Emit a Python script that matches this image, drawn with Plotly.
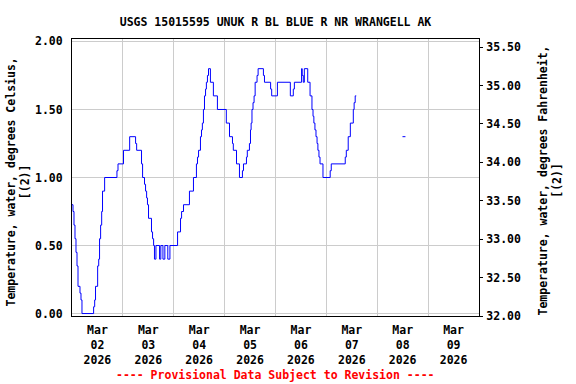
import pandas as pd
import plotly.graph_objects as go

# ---- data (hours since 2026-03-02 00:00, deg C) ----
start = pd.Timestamp("2026-03-02 00:00")
hours = [0.0, 0.47, 0.94, 1.41, 1.88, 2.36, 2.83, 3.77, 4.24, 4.71,
         10.2, 10.7, 11.1, 12.1, 12.6, 13.0, 13.5, 14.0, 14.4, 15.4,
         21.2, 21.7, 24.3, 27.2, 30.0, 30.5, 32.8, 33.3, 34.2, 34.7,
         35.2, 35.6, 36.1, 37.5, 38.0, 38.5, 38.9, 39.6, 41.3, 41.9,
         42.9, 43.8, 45.2, 46.2, 49.8, 51.2, 51.7, 52.6, 55.4, 57.3,
         58.7, 59.2, 59.7, 60.6, 61.1, 61.5, 62.0, 62.5, 63.0, 63.4,
         63.9, 64.4, 65.3, 66.7, 68.6, 72.8, 74.3, 75.7, 76.1, 77.6,
         79.0, 80.4, 80.9, 82.3, 82.7, 83.7, 84.2, 84.5, 84.9, 85.4,
         85.9, 86.4, 87.3, 87.8, 90.3, 90.8, 93.7, 94.2, 96.9, 103.0,
         104.4, 104.9, 108.3, 108.6, 109.1, 109.6, 111.2, 112.3, 113.2, 113.7,
         114.1, 114.6, 115.1, 115.6, 116.0, 116.5, 117.0, 118.4, 121.8, 122.3,
         128.9, 129.4, 130.3, 131.3, 132.7, 133.1, 133.6, 134.1,
         134.2, 155.9, 157.3]
temp_c = [0.8, 0.75, 0.65, 0.55, 0.45, 0.35, 0.2, 0.15, 0.1, 0.0,
          0.05, 0.1, 0.2, 0.35, 0.4, 0.55, 0.65, 0.75, 0.9, 1.0,
          1.05, 1.1, 1.2, 1.3, 1.25, 1.2, 1.1, 1.0, 0.95, 0.9,
          0.85, 0.8, 0.7, 0.6, 0.55, 0.5, 0.4, 0.5, 0.4, 0.5,
          0.4, 0.5, 0.4, 0.5, 0.6, 0.7, 0.75, 0.8, 0.9, 1.0,
          1.1, 1.15, 1.2, 1.3, 1.35, 1.4, 1.5, 1.6, 1.65, 1.7,
          1.75, 1.8, 1.7, 1.6, 1.5, 1.4, 1.3, 1.25, 1.2, 1.1,
          1.0, 1.05, 1.1, 1.15, 1.2, 1.25, 1.35, 1.4, 1.5, 1.55,
          1.6, 1.7, 1.75, 1.8, 1.75, 1.7, 1.65, 1.6, 1.7, 1.6,
          1.65, 1.7, 1.8, 1.75, 1.7, 1.8, 1.7, 1.6, 1.5, 1.45,
          1.4, 1.35, 1.3, 1.25, 1.2, 1.15, 1.1, 1.0, 1.05, 1.1,
          1.15, 1.2, 1.3, 1.4, 1.5, 1.55, 1.6, 1.6,
          None, 1.3, 1.3]

tick_days = ["2026-03-02", "2026-03-03", "2026-03-04", "2026-03-05",
             "2026-03-06", "2026-03-07", "2026-03-08", "2026-03-09"]
tick_text = ["Mar<br>02<br>2026", "Mar<br>03<br>2026", "Mar<br>04<br>2026",
             "Mar<br>05<br>2026", "Mar<br>06<br>2026", "Mar<br>07<br>2026",
             "Mar<br>08<br>2026", "Mar<br>09<br>2026"]

title = "USGS 15015595 UNUK R BL BLUE R NR WRANGELL AK"
left_title = "Temperature, water, degrees Celsius,<br>[(2)]"
right_title = "Temperature, water, degrees Fahrenheit,<br>[(2)]"
note = "---- Provisional Data Subject to Revision ----"

times = [start + pd.Timedelta(hours=h) for h in hours]
temp_f = [None if v is None else v * 9 / 5 + 32 for v in temp_c]
tick_vals = [pd.Timestamp(d) + pd.Timedelta(hours=12) for d in tick_days]

FONT = dict(family="DejaVu Sans Mono", size=11.5, color="black", weight="bold")
GRID = "#cccccc"

fig = go.Figure()
fig.add_trace(go.Scatter(x=times, y=temp_c, mode="lines", line_shape="hv",
                         line=dict(color="#0000ff", width=1),
                         connectgaps=False, showlegend=False, hoverinfo="x+y"))
fig.add_trace(go.Scatter(x=times, y=temp_f, mode="lines", line_shape="hv",
                         line=dict(color="rgba(0,0,0,0)", width=1),
                         yaxis="y2", showlegend=False, hoverinfo="skip"))

fig.update_layout(
    width=576, height=384,
    margin=dict(l=72, r=97, t=39, b=68),
    paper_bgcolor="white", plot_bgcolor="white",
    font=FONT,
    xaxis=dict(type="date", range=[start, start + pd.Timedelta(days=8)],
               tickmode="array", tickvals=tick_vals, ticktext=tick_text,
               ticks="", showgrid=False, zeroline=False,
               showline=True, linecolor="black", linewidth=1, mirror=True,
               tickfont=FONT, ticklabelstandoff=3,
               minor=dict(tickmode="linear", tick0=start, dtick=86400000,
                          showgrid=True, gridcolor=GRID, gridwidth=1, ticks="")),
    yaxis=dict(range=[-0.018, 2.018], tickmode="linear", tick0=0, dtick=0.5,
               tickformat=".2f", ticks="", showgrid=True, gridcolor=GRID,
               gridwidth=1, zeroline=False, showline=True, linecolor="black",
               linewidth=1, mirror=True, tickfont=FONT, ticklabelstandoff=6),
    yaxis2=dict(range=[32.0, 35.605], tickmode="linear", tick0=32, dtick=0.5,
                tickformat=".2f", overlaying="y", side="right",
                ticks="outside", ticklen=3, tickcolor="black",
                showgrid=False, zeroline=False, showline=False,
                tickfont=FONT, ticklabelstandoff=1),
    title=dict(text=title, x=0.5, xref="paper", xanchor="center",
               y=1 - 22 / 384, yref="container", yanchor="middle", font=FONT),
    annotations=[
        dict(text=left_title, textangle=-90, xref="paper", yref="paper",
             x=0, y=0.5, xanchor="center", yanchor="middle", xshift=-54,
             yshift=-5, showarrow=False, font=FONT),
        dict(text=right_title, textangle=-90, xref="paper", yref="paper",
             x=1, y=0.5, xanchor="center", yanchor="middle", xshift=71,
             yshift=-3, showarrow=False, font=FONT),
        dict(text=note, xref="paper", yref="paper", x=0.5, y=-0.213,
             xanchor="center", yanchor="middle", showarrow=False,
             font=dict(family="DejaVu Sans Mono", size=11.5, color="red",
                       weight="bold")),
    ],
)

fig.write_html(
    "out.html",
    config={"displayModeBar": False},
    post_script="document.body.style.margin='0';"
                "document.body.style.overflow='hidden';",
)
